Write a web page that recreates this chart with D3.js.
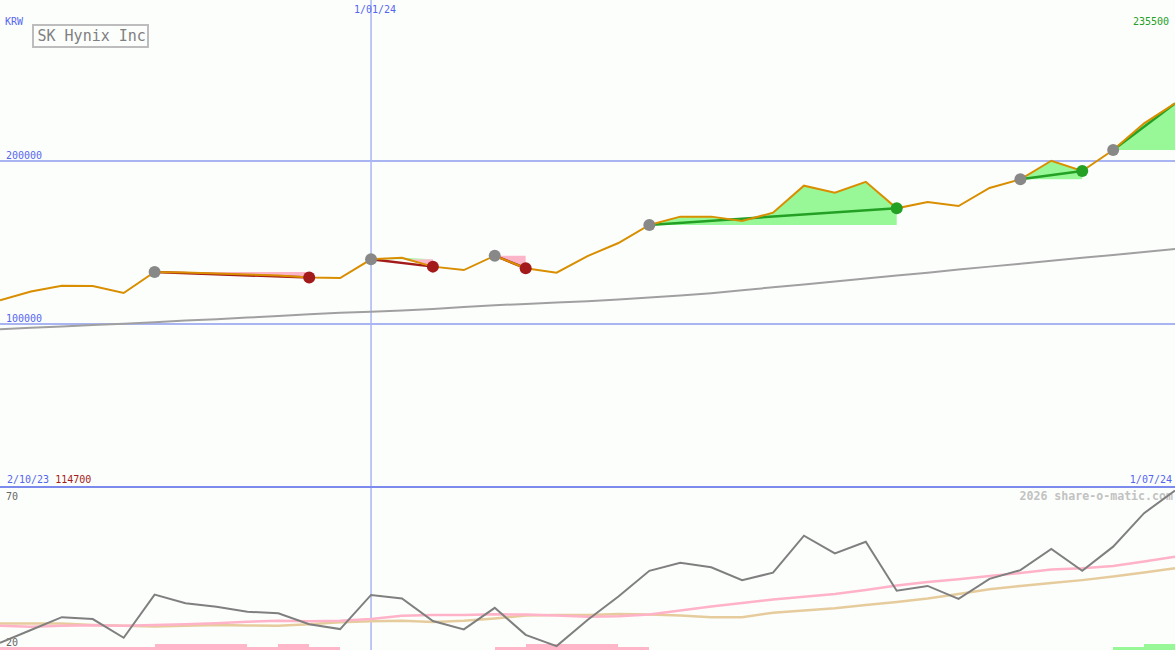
<!DOCTYPE html>
<html><head><meta charset="utf-8">
<script src="https://cdn.jsdelivr.net/npm/d3@7"></script>
<style>
html,body{margin:0;padding:0;background:#fcfefc;}
svg{display:block;}
text{font-family:"DejaVu Sans Mono","Liberation Mono",monospace;}
</style></head><body>
<svg id="c" width="1175" height="650"></svg>
<script>
// ---------- data ----------
const title = "SK Hynix Inc";
const currency = "KRW";
const startLabel = "2/10/23";
const endLabel = "1/07/24";
const dateTickIdx = [12];
const dateTickLabel = ["1/01/24"];
const priceGrid = [100000, 200000];
const oscLabels = [70, 20];
const watermark = "2026 share-o-matic.com";

// weekly closing price (KRW)
const price = [114700, 120000, 123600, 123400, 119100, 132000, 131700, 131100, 130500, 129900,
               128600, 128300, 139800, 140800, 135300, 133200, 142000, 134300, 131600, 141800,
               149800, 160900, 166000, 166000, 163300, 168400, 185000, 180700, 187400, 171100,
               175000, 172500, 183600, 188900, 200300, 194000, 206900, 223300, 235500];
// long moving average
const longMA = [96800, 97700, 98500, 99400, 100300, 101200, 102200, 103000, 104000, 105000,
                106000, 106950, 107600, 108400, 109300, 110500, 111600, 112400, 113300, 114100,
                115100, 116300, 117600, 119000, 120800, 122600, 124400, 126200, 128000, 129900,
                131600, 133500, 135300, 137000, 138900, 140700, 142400, 144300, 146100];
// lower panel oscillator and its averages
const osc = [22.2, 26.2, 30.2, 29.6, 23.8, 37.2, 34.5, 33.4, 31.9, 31.4,
             28.0, 26.5, 37.1, 36.0, 29.0, 26.4, 33.1, 24.7, 21.2, 29.3,
             36.6, 44.6, 47.1, 45.7, 41.7, 44.0, 55.5, 50.0, 53.6, 38.4,
             39.9, 35.9, 42.1, 44.8, 51.4, 44.6, 52.1, 62.5, 69.5];
const oscFast = [27.5, 27.2, 27.5, 27.7, 27.5, 27.8, 28.0, 28.3, 28.8, 29.1,
                 28.9, 29.1, 29.6, 30.6, 30.9, 30.9, 31.1, 31.0, 30.7, 30.3,
                 30.5, 31.0, 32.3, 33.5, 34.6, 35.7, 36.5, 37.4, 38.6, 40.0,
                 41.1, 42.0, 43.0, 43.9, 45.0, 45.4, 46.1, 47.5, 49.0];
const oscSlow = [28.2, 28.2, 28.2, 27.8, 27.5, 27.3, 27.5, 27.8, 27.6, 27.5,
                 28.0, 28.6, 28.9, 29.1, 28.7, 29.1, 29.8, 30.7, 30.9, 30.9,
                 31.2, 31.0, 30.7, 30.2, 30.2, 31.6, 32.3, 33.0, 34.0, 34.9,
                 36.0, 37.4, 38.9, 39.9, 40.8, 41.7, 42.8, 44.1, 45.4];
// bottom signal bars (negative = pink, positive = green)
const signal = [-1, -1, -1, -1, -1, -2, -2, -2, -1, -2,
                -1, 0, 0, 0, 0, 0, -1, -2, -2, -2,
                -1, 0, 0, 0, 0, 0, 0, 0, 0, 0,
                0, 0, 0, 0, 0, 0, 1, 2, 0];
// trades (week indices)
const tradeEntry = [5, 12, 16, 21, 33, 36];
const tradeExit  = [10, 14, 17, 29, 35, 38];
const tradeOpen  = [false, false, false, false, false, true];

// ---------- chart ----------
const W = 1175, H = 650;
const svg = d3.select("#c");
const x = d3.scaleLinear([0, price.length - 1], [0, W]);
const y = d3.scaleLinear([0, 299000], [487, 0]);
const y2 = d3.scaleLinear([20, 70], [650, 489]);
const yb = d3.scaleLinear([0, 2], [650, 644]);

const BLUE_TXT = "#5566ee", GRID = "#a9b5f2", SEP = "#7b8aec";
const ORANGE = "#d98e00", LOSS = "#a31a1a", GAIN = "#24a024";
const PINK = "#fbb4c8", LGREEN = "#98f898";

svg.append("rect").attr("width", W).attr("height", H).attr("fill", "#fcfefc");

// grid
svg.selectAll("line.hg").data(priceGrid).join("line")
  .attr("x1", 0).attr("x2", W).attr("y1", d => y(d)).attr("y2", d => y(d))
  .attr("stroke", GRID).attr("stroke-width", 2).attr("shape-rendering", "crispEdges");
svg.selectAll("line.vg").data(dateTickIdx).join("line")
  .attr("x1", d => x(d)).attr("x2", d => x(d)).attr("y1", 0).attr("y2", H)
  .attr("stroke", GRID).attr("stroke-width", 1.5);
svg.append("line").attr("x1", 0).attr("x2", W).attr("y1", 487).attr("y2", 487)
  .attr("stroke", SEP).attr("stroke-width", 2).attr("shape-rendering", "crispEdges");

// trade fills
tradeEntry.forEach((e, k) => {
  const xEnd = tradeExit[k];
  const idx = d3.range(e, xEnd + 1);
  const ep = price[e];
  svg.append("path").datum(idx)
    .attr("d", d3.area().x(i => x(i)).y0(y(ep)).y1(i => y(Math.min(price[i], ep))))
    .attr("fill", PINK);
  svg.append("path").datum(idx)
    .attr("d", d3.area().x(i => x(i)).y0(y(ep)).y1(i => y(Math.max(price[i], ep))))
    .attr("fill", LGREEN);
});

// long MA
svg.append("path").datum(longMA)
  .attr("d", d3.line().x((d, i) => x(i)).y(d => y(d)))
  .attr("fill", "none").attr("stroke", "#a0a0a0").attr("stroke-width", 2);

// trade lines
tradeEntry.forEach((e, k) => {
  const xe = tradeExit[k];
  const gain = price[xe] >= price[e];
  svg.append("line")
    .attr("x1", x(e)).attr("y1", y(price[e])).attr("x2", x(xe)).attr("y2", y(price[xe]))
    .attr("stroke", gain ? GAIN : LOSS).attr("stroke-width", 2.5);
});

// price line
svg.append("path").datum(price)
  .attr("d", d3.line().x((d, i) => x(i)).y(d => y(d)))
  .attr("fill", "none").attr("stroke", ORANGE).attr("stroke-width", 2);

// dots
tradeEntry.forEach((e, k) => {
  const xe = tradeExit[k];
  const gain = price[xe] >= price[e];
  svg.append("circle").attr("cx", x(e)).attr("cy", y(price[e])).attr("r", 6).attr("fill", "#888888");
  if (!tradeOpen[k]) {
    svg.append("circle").attr("cx", x(xe)).attr("cy", y(price[xe])).attr("r", 6)
      .attr("fill", gain ? GAIN : LOSS);
  }
});

// title box
svg.append("rect").attr("x", 33).attr("y", 25).attr("width", 115).attr("height", 22)
  .attr("fill", "none").attr("stroke", "#bdbdbd").attr("stroke-width", 2);
svg.append("text").attr("x", 37.5).attr("y", 41).attr("font-size", 15).attr("fill", "#808080").text(title);

// text labels
svg.append("text").attr("x", 5).attr("y", 25).attr("font-size", 10).attr("fill", BLUE_TXT).text(currency);
svg.selectAll("text.dt").data(dateTickIdx).join("text")
  .attr("x", d => x(d) + 4).attr("y", 13).attr("text-anchor", "middle")
  .attr("font-size", 10).attr("fill", BLUE_TXT).text((d, i) => dateTickLabel[i]);
svg.append("text").attr("x", 1169).attr("y", 25).attr("text-anchor", "end")
  .attr("font-size", 10).attr("fill", GAIN).text(price[price.length - 1]);
svg.selectAll("text.pg").data(priceGrid).join("text")
  .attr("x", 6).attr("y", d => y(d) - 2.5).attr("font-size", 10).attr("fill", BLUE_TXT).text(d => d);
const bl = svg.append("text").attr("x", 7).attr("y", 483).attr("font-size", 10);
bl.append("tspan").attr("fill", BLUE_TXT).text(startLabel + " ");
bl.append("tspan").attr("fill", LOSS).text(d3.min(price));
svg.append("text").attr("x", 1172).attr("y", 483).attr("text-anchor", "end")
  .attr("font-size", 10).attr("fill", BLUE_TXT).text(endLabel);
svg.selectAll("text.ol").data(oscLabels).join("text")
  .attr("x", 6).attr("y", (d, i) => i === 0 ? 500 : 646).attr("font-size", 10).attr("fill", "#666").text(d => d);
svg.append("text").attr("x", 1173).attr("y", 500).attr("text-anchor", "end")
  .attr("font-size", 11.6).attr("font-weight", "bold").attr("fill", "#c2c2c2").text(watermark);

// lower panel bars
svg.selectAll("rect.sb").data(signal).join("rect")
  .attr("x", (d, i) => x(i)).attr("width", (d, i) => d === 0 ? 0 : x(i + 1) - x(i))
  .attr("y", d => yb(Math.abs(d))).attr("height", d => 650 - yb(Math.abs(d)))
  .attr("fill", d => d < 0 ? "#ffb6c8" : LGREEN).attr("shape-rendering", "crispEdges");

// lower panel lines
const l2 = d3.line().x((d, i) => x(i)).y(d => y2(d));
svg.append("path").datum(oscSlow).attr("d", l2).attr("fill", "none").attr("stroke", "#e6cc9c").attr("stroke-width", 2.5);
svg.append("path").datum(oscFast).attr("d", l2).attr("fill", "none").attr("stroke", "#ffb2c8").attr("stroke-width", 2.5);
svg.append("path").datum(osc).attr("d", l2).attr("fill", "none").attr("stroke", "#7f7f7f").attr("stroke-width", 2);
</script>
</body></html>
